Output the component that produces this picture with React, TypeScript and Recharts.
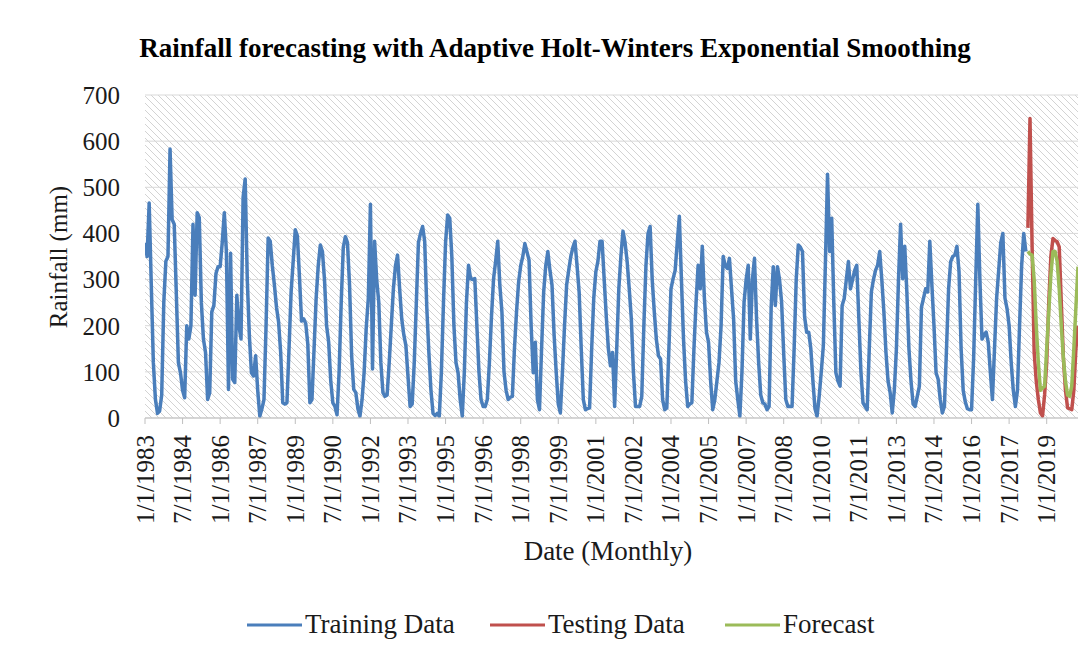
import React from 'react';
import { LineChart, Line, XAxis, YAxis, CartesianGrid } from 'recharts';

const FONT = '"Liberation Serif", "Times New Roman", serif';

const tickLabels = [
  '1/1/1983', '7/1/1984', '1/1/1986', '7/1/1987', '1/1/1989', '7/1/1990', '1/1/1992',
  '7/1/1993', '1/1/1995', '7/1/1996', '1/1/1998', '7/1/1999', '1/1/2001', '7/1/2002',
  '1/1/2004', '7/1/2005', '1/1/2007', '7/1/2008', '1/1/2010', '7/1/2011', '1/1/2013',
  '7/1/2014', '1/1/2016', '7/1/2017', '1/1/2019',
];
// month index (0 = Jan 1983) of each tick label
const tickMonths = [
  0, 18, 36, 54, 72, 90, 108, 126, 144, 162, 180, 198, 216, 234, 252, 270, 288, 306,
  324, 342, 360, 378, 396, 414, 432,
];
const yTicks = [0, 100, 200, 300, 400, 500, 600, 700];

// Monthly rainfall (mm), Jan 1983 .. Mar 2018
const trainingData = [
  380, 350, 466, 290, 120, 40, 10, 15, 50, 250, 340, 350, // 1983
  583, 430, 420, 270, 120, 98, 60, 44, 200, 171, 200, 420, // 1984
  266, 445, 434, 250, 171, 142, 40, 55, 230, 244, 313, 328, // 1985
  328, 380, 445, 360, 62, 357, 84, 77, 266, 200, 171, 478, // 1986
  518, 300, 178, 98, 91, 135, 60, 4, 20, 40, 200, 390, // 1987
  383, 330, 288, 240, 208, 142, 33, 30, 33, 150, 273, 340, // 1988
  408, 395, 306, 210, 215, 205, 160, 33, 40, 150, 260, 330, // 1989
  375, 361, 300, 200, 164, 80, 33, 25, 7, 100, 250, 370, // 1990
  393, 380, 288, 135, 62, 55, 20, 4, 40, 100, 196, 260, // 1991
  463, 106, 383, 300, 251, 120, 55, 47, 50, 120, 200, 280, // 1992
  330, 353, 280, 215, 180, 157, 90, 25, 30, 120, 250, 380, // 1993
  400, 415, 383, 240, 142, 60, 10, 5, 10, 4, 100, 250, // 1994
  380, 440, 433, 350, 200, 120, 98, 40, 4, 100, 250, 331, // 1995
  302, 300, 302, 200, 100, 40, 25, 25, 40, 120, 220, 302, // 1996
  340, 383, 288, 230, 100, 60, 40, 45, 47, 150, 230, 295, // 1997
  330, 350, 378, 360, 342, 200, 98, 164, 40, 18, 150, 273, // 1998
  330, 361, 320, 288, 180, 100, 30, 11, 100, 200, 288, 320, // 1999
  350, 370, 383, 330, 273, 150, 40, 18, 20, 22, 150, 260, // 2000
  317, 340, 383, 383, 300, 220, 150, 113, 142, 25, 150, 280, // 2001
  350, 405, 380, 339, 280, 215, 100, 25, 25, 25, 47, 200, // 2002
  330, 400, 415, 300, 230, 170, 135, 128, 40, 18, 22, 150, // 2003
  280, 302, 320, 380, 437, 300, 171, 80, 25, 30, 33, 150, // 2004
  250, 331, 280, 372, 260, 186, 164, 80, 18, 40, 80, 120, // 2005
  200, 350, 330, 324, 346, 280, 215, 80, 40, 4, 100, 250, // 2006
  300, 331, 171, 300, 346, 215, 120, 50, 33, 30, 18, 25, // 2007
  240, 328, 244, 328, 300, 251, 140, 40, 25, 25, 25, 150, // 2008
  300, 375, 370, 361, 220, 186, 186, 150, 80, 20, 4, 47, // 2009
  100, 157, 340, 528, 361, 433, 250, 98, 80, 69, 244, 259, // 2010
  300, 339, 280, 300, 320, 331, 215, 100, 33, 25, 18, 150, // 2011
  273, 300, 320, 331, 361, 300, 230, 142, 80, 55, 11, 60, // 2012
  150, 300, 420, 302, 372, 273, 150, 80, 30, 25, 47, 69, // 2013
  240, 260, 280, 273, 383, 288, 200, 98, 84, 40, 11, 25, // 2014
  150, 280, 339, 350, 353, 372, 317, 150, 60, 35, 20, 18, // 2015
  18, 130, 300, 463, 300, 171, 180, 186, 164, 100, 40, 150, // 2016
  259, 320, 380, 400, 260, 237, 200, 120, 60, 25, 60, 200, // 2017
  330, 400, 361, // 2018
];
const testStart = trainingData.length; // first testing month index
// Testing data (observed) and forecast, Apr 2018 .. Apr 2020
const testingData = [
  412, 649, 375, 142, 80, 40, 11, 4, 50, 120, 250, 350, 389, 385, 382, 371, 250, 130,
  60, 22, 20, 18, 60, 150, 200,
];
const forecastData = [
  361, 355, 353, 300, 200, 120, 60, 65, 69, 150, 230, 310, 361, 361, 340, 280, 200, 130,
  80, 50, 47, 69, 150, 240, 328,
];

const totalMonths = testStart + testingData.length;

function buildData() {
  const rows: any[] = [];
  for (let m = 0; m < totalMonths; m++) {
    rows.push({
      m,
      train: m < testStart ? trainingData[m] : null,
      test: m >= testStart ? testingData[m - testStart] : null,
      forecast: m >= testStart ? forecastData[m - testStart] : null,
    });
  }
  return rows;
}

const XTick = (props: any) => {
  const { x, y, payload } = props;
  const idx = tickMonths.indexOf(payload.value);
  const label = idx >= 0 ? tickLabels[idx] : '';
  return (
    <text
      x={x}
      y={y}
      transform={`rotate(-90, ${x}, ${y})`}
      textAnchor="end"
      dominantBaseline="central"
      fontFamily={FONT}
      fontSize={25}
      fill="#1a1a1a"
    >
      {label}
    </text>
  );
};

const legendItems = [
  { name: 'Training Data', color: '#4A7EBB', x: 247 },
  { name: 'Testing Data', color: '#C0504D', x: 490 },
  { name: 'Forecast', color: '#9BBB59', x: 725 },
];

export default function App() {
  const data = buildData();
  return (
    <div style={{ position: 'absolute', left: 0, top: 0, width: 1092, height: 659, background: '#fff' }}>
      <LineChart
        width={1092}
        height={659}
        data={data}
        margin={{ top: 95, right: 14, bottom: 111, left: 60 }}
      >
        <defs>
          <pattern id="hatch" patternUnits="userSpaceOnUse" width="7" height="7">
            <path d="M-1,-1 L8,8 M-1,6 L1,8 M6,-1 L8,1" stroke="#d3d3d3" strokeWidth="1" />
          </pattern>
        </defs>
        <CartesianGrid vertical={false} stroke="#d9d9d9" fill="url(#hatch)" fillOpacity={1} />
        <XAxis
          type="number"
          dataKey="m"
          domain={[0, totalMonths - 1]}
          ticks={tickMonths}
          interval={0}
          height={130}
          tick={<XTick />}
          tickSize={6}
          tickMargin={11}
          stroke="#bfbfbf"
          allowDataOverflow
        />
        <YAxis
          domain={[0, 700]}
          ticks={yTicks}
          width={85}
          axisLine={false}
          tickLine={false}
          tickSize={0}
          tickMargin={25}
          tick={{ fontSize: 25, fill: '#1a1a1a', fontFamily: FONT }}
        />
        <Line
          type="linear"
          dataKey="train"
          stroke="#4A7EBB"
          strokeWidth={3.5}
          strokeLinejoin="round"
          dot={false}
          isAnimationActive={false}
        />
        <Line
          type="linear"
          dataKey="test"
          stroke="#C0504D"
          strokeWidth={3.5}
          strokeLinejoin="round"
          dot={false}
          isAnimationActive={false}
        />
        <Line
          type="linear"
          dataKey="forecast"
          stroke="#9BBB59"
          strokeWidth={3.5}
          strokeLinejoin="round"
          dot={false}
          isAnimationActive={false}
        />
      </LineChart>
      <svg
        width={1092}
        height={659}
        style={{ position: 'absolute', left: 0, top: 0, pointerEvents: 'none' }}
      >
        <text x={555} y={57} textAnchor="middle" fontFamily={FONT} fontWeight="bold" fontSize={27} fill="#000">
          Rainfall forecasting with Adaptive Holt-Winters Exponential Smoothing
        </text>
        <text
          x={58}
          y={257}
          transform="rotate(-90, 58, 257)"
          textAnchor="middle"
          dominantBaseline="central"
          fontFamily={FONT}
          fontSize={25}
          fill="#1a1a1a"
        >
          Rainfall (mm)
        </text>
        <text x={608} y={560} textAnchor="middle" fontFamily={FONT} fontSize={27} fill="#1a1a1a">
          Date (Monthly)
        </text>
        {legendItems.map((it) => (
          <g key={it.name}>
            <line x1={it.x} y1={625} x2={it.x + 55} y2={625} stroke={it.color} strokeWidth={3} />
            <text x={it.x + 58} y={633} fontFamily={FONT} fontSize={27} fill="#1a1a1a">
              {it.name}
            </text>
          </g>
        ))}
      </svg>
    </div>
  );
}
